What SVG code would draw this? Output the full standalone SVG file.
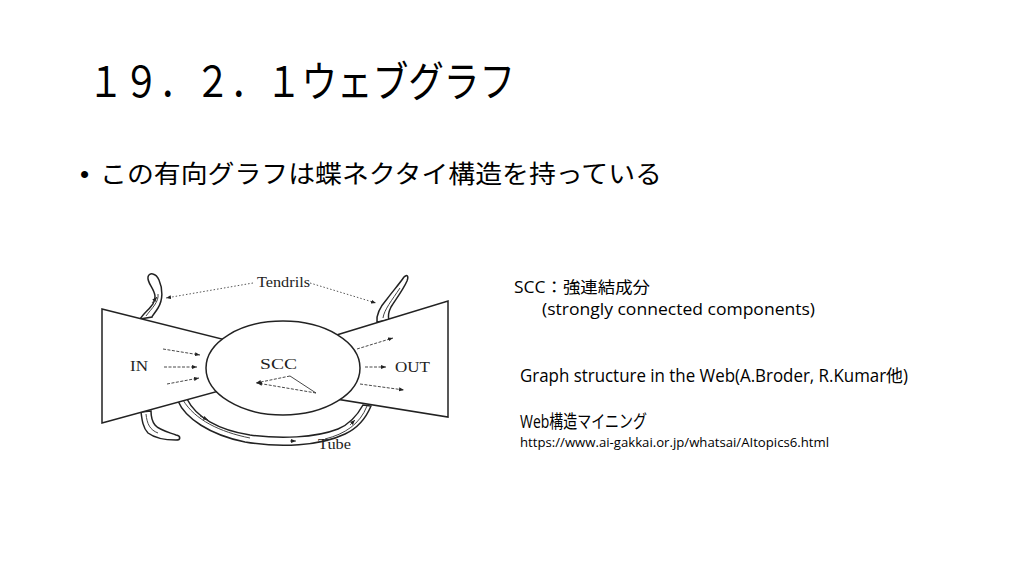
<svg xmlns="http://www.w3.org/2000/svg" width="1024" height="576" viewBox="0 0 1024 576">
<style>
.jp{font-family:"Liberation Sans","Noto Sans CJK JP",sans-serif;fill:#000}
.lat{font-family:"Open Sans","Noto Sans CJK JP",sans-serif;fill:#000}
.ser{font-family:"Liberation Serif",serif;fill:#222;font-size:14px}
.sh{fill:#fff;stroke:#222;stroke-width:1.5}
.tb{fill:none;stroke:#444;stroke-width:1}
.ar{fill:none;stroke:#333;stroke-width:0.9;stroke-dasharray:3 1.5;marker-end:url(#ah)}
.dt{fill:none;stroke:#444;stroke-width:0.9;stroke-dasharray:1.5 2;marker-end:url(#ah)}
</style>
<defs>
<marker id="ah" markerWidth="6" markerHeight="6" refX="5" refY="3" orient="auto" markerUnits="userSpaceOnUse">
<path d="M0,1 L5,3 L0,5 Z" fill="#222"/>
</marker>
</defs>
<rect width="1024" height="576" fill="#fff"/>
<text class="jp" x="88" y="97" font-size="42" textLength="427" lengthAdjust="spacingAndGlyphs">１９．２．１ウェブグラフ</text>
<text class="jp" x="80" y="183" font-size="26">•</text>
<text class="jp" x="100" y="183" font-size="25" textLength="562" lengthAdjust="spacingAndGlyphs">この有向グラフは蝶ネクタイ構造を持っている</text>

<g id="figure">
<g id="tendril-ul"><path class="sh" d="M140,319 C146,310 156,305 155,296 C154,288 147,283 148,277 C149,272 156,273 159,280 C163,289 163,300 158,308 C155,313 152,316 152,317 Z"/><path class="tb" d="M146,316 C152,308 159,302 158,294"/></g>
<g id="tendril-ur"><path class="sh" d="M377,322 C376,314 380,307 387,299 C393,291 400,283 404,277 C407,274 409,276 407,281 C403,290 396,299 391,307 C388,313 388,317 389,320 Z"/><path class="tb" d="M383,318 C384,310 392,300 400,288"/></g>
<g id="tendril-ll"><path class="sh" d="M141,412 C142,420 143,428 148,433 C156,439 167,440 176,440 C181,440 181,436 176,435 C168,432 159,430 155,425 C151,420 151,415 151,411 Z"/><path class="tb" d="M146,414 C147,424 150,430 158,433"/></g>
<g id="tube"><path class="sh" d="M178,401 C185,418 210,435 245,442 C280,448 320,446 345,434 C358,428 366,418 371,406 L363,405 C357,416 350,424 338,429 C315,438 280,439 250,435 C218,430 196,417 187,399 Z"/><path class="tb" d="M183,400 C195,420 220,432 250,438 M325,439 C345,434 360,424 367,406"/></g>
<g id="in"><polygon class="sh" points="102,309 230,341 230,388 102,423"/><text class="ser" x="130" y="371" textLength="18" lengthAdjust="spacingAndGlyphs">IN</text></g>
<g id="out"><polygon class="sh" points="330,337 448,301 448,417 330,398"/><text class="ser" x="395" y="372" textLength="35" lengthAdjust="spacingAndGlyphs">OUT</text></g>
<g id="scc"><ellipse class="sh" cx="283" cy="368" rx="77" ry="47"/><text class="ser" x="260" y="369" font-size="15" textLength="37" lengthAdjust="spacingAndGlyphs">SCC</text></g>
<text class="ser" x="257" y="287" textLength="53" lengthAdjust="spacingAndGlyphs">Tendrils</text>
<text class="ser" x="318" y="449" textLength="33" lengthAdjust="spacingAndGlyphs">Tube</text>
<g id="connectors">
<path class="ar" d="M163,349 L200,355"/>
<path class="ar" d="M164,367 L197,367"/>
<path class="ar" d="M167,384 L199,378"/>
<path class="ar" d="M357,349 L393,338"/>
<path class="ar" d="M365,367 L386,367"/>
<path class="ar" d="M360,384 L404,390"/>
<path class="dt" d="M253,283 L166,298"/>
<path class="dt" d="M310,283 L376,303"/>
<path class="ar" d="M290,376 L256,383"/>
<path fill="none" stroke="#333" stroke-width="0.9" d="M290,376 L316,393"/>
<path class="ar" d="M316,393 L257,383"/>
<path fill="none" stroke="#333" stroke-width="0.8" marker-end="url(#ah)" d="M200,416 L208,420"/>
<path fill="none" stroke="#333" stroke-width="0.8" marker-end="url(#ah)" d="M290,441 L296,441"/>
<path fill="none" stroke="#333" stroke-width="0.8" marker-end="url(#ah)" d="M350,425 L355,420"/>
<path fill="none" stroke="#333" stroke-width="0.8" marker-end="url(#ah)" d="M152,303 L157,297"/>
</g>
</g>

<text class="lat" x="514" y="293" font-size="16" textLength="136" lengthAdjust="spacingAndGlyphs">SCC：強連結成分</text>
<text class="lat" x="542" y="315" font-size="16" textLength="273" lengthAdjust="spacingAndGlyphs">(strongly connected components)</text>
<text class="lat" x="520" y="382" font-size="17.5" textLength="388" lengthAdjust="spacingAndGlyphs">Graph structure in the Web(A.Broder, R.Kumar他)</text>
<text class="lat" x="520" y="428" font-size="18" textLength="127" lengthAdjust="spacingAndGlyphs">Web構造マイニング</text>
<text class="lat" x="520" y="447" font-size="13" textLength="309" lengthAdjust="spacingAndGlyphs">https://www.ai-gakkai.or.jp/whatsai/AItopics6.html</text>
</svg>
